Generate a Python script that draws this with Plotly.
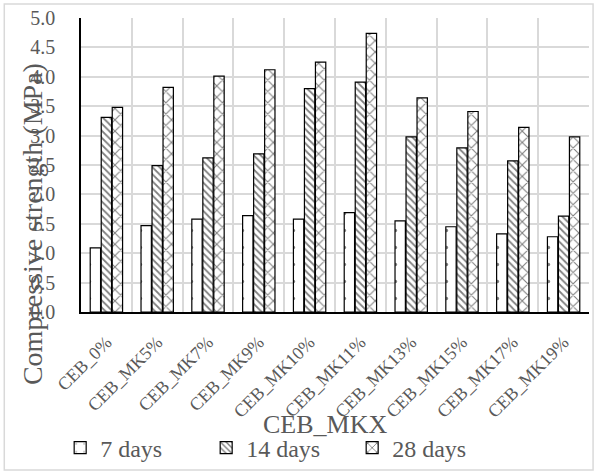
import plotly.graph_objects as go

categories = ["CEB_0%", "CEB_MK5%", "CEB_MK7%", "CEB_MK9%", "CEB_MK10%",
              "CEB_MK11%", "CEB_MK13%", "CEB_MK15%", "CEB_MK17%", "CEB_MK19%"]
days7 = [1.09, 1.47, 1.58, 1.64, 1.58, 1.69, 1.55, 1.45, 1.33, 1.28]
days14 = [3.31, 2.49, 2.62, 2.69, 3.80, 3.91, 2.98, 2.79, 2.57, 1.63]
days28 = [3.48, 3.82, 4.01, 4.12, 4.25, 4.74, 3.64, 3.41, 3.14, 2.98]
y_ticks = [0, 0.5, 1.0, 1.5, 2.0, 2.5, 3.0, 3.5, 4.0, 4.5, 5.0]

FONT = "Liberation Serif, serif"
GRAY = "#595959"

fig = go.Figure()
series = [
    ("7 days", days7, dict(shape=".", size=17, solidity=0.03)),
    ("14 days", days14, dict(shape="\\", size=5, solidity=0.35)),
    ("28 days", days28, dict(shape="x", size=8, solidity=0.25)),
]
for name, vals, pat in series:
    fig.add_trace(go.Bar(
        x=categories, y=vals, name=name,
        marker=dict(color="white",
                    line=dict(color="black", width=1.2),
                    pattern=dict(fgcolor="black", bgcolor="white", **pat)),
    ))

fig.update_layout(
    width=594, height=472,
    margin=dict(l=81, r=5, t=18, b=160, autoexpand=False),
    paper_bgcolor="white", plot_bgcolor="white",
    barmode="group", bargap=0.35, bargroupgap=0.06,
    font=dict(family=FONT, color=GRAY),
    showlegend=True,
    legend=dict(orientation="h", x=-0.041, y=-0.463, xanchor="left", yanchor="middle",
                font=dict(size=24, color=GRAY, family=FONT),
                entrywidth=101, entrywidthmode="pixels",
                bgcolor="rgba(0,0,0,0)"),
    xaxis=dict(type="category", tickson="boundaries", automargin=False,
               showgrid=True, gridcolor="#d9d9d9", gridwidth=1.5,
               showline=True, linecolor="black", linewidth=1.5,
               ticks="", ticklabelstandoff=11,
               tickangle=-45,
               tickfont=dict(size=18, color=GRAY, family=FONT)),
    yaxis=dict(range=[0, 5.0], tickvals=y_ticks, automargin=False,
               ticktext=[f"{v:.1f}" for v in y_ticks],
               showgrid=True, gridcolor="#d9d9d9", gridwidth=1.5,
               showline=True, linecolor="black", linewidth=1.5,
               ticks="outside", ticklen=20, tickcolor="rgba(0,0,0,0)",
               tickfont=dict(size=20, color=GRAY, family=FONT),
               zeroline=False),
)

fig.add_annotation(
    text="Compressive strength (MPa)", textangle=-90,
    xref="paper", yref="paper", x=-0.0965, y=0.299,
    xanchor="center", yanchor="middle", showarrow=False,
    font=dict(size=28, color=GRAY, family=FONT),
)
fig.add_annotation(
    text="CEB_MKX",
    xref="paper", yref="paper", x=0.48, y=-0.384,
    xanchor="center", yanchor="middle", showarrow=False,
    font=dict(size=26, color=GRAY, family=FONT),
)

fig.add_shape(type="rect", xref="paper", yref="paper",
              x0=-0.151, x1=1.008, y0=-0.537, y1=1.0476,
              line=dict(color="#d9d9d9", width=1.5), layer="below")

fig.write_html("out.html")
